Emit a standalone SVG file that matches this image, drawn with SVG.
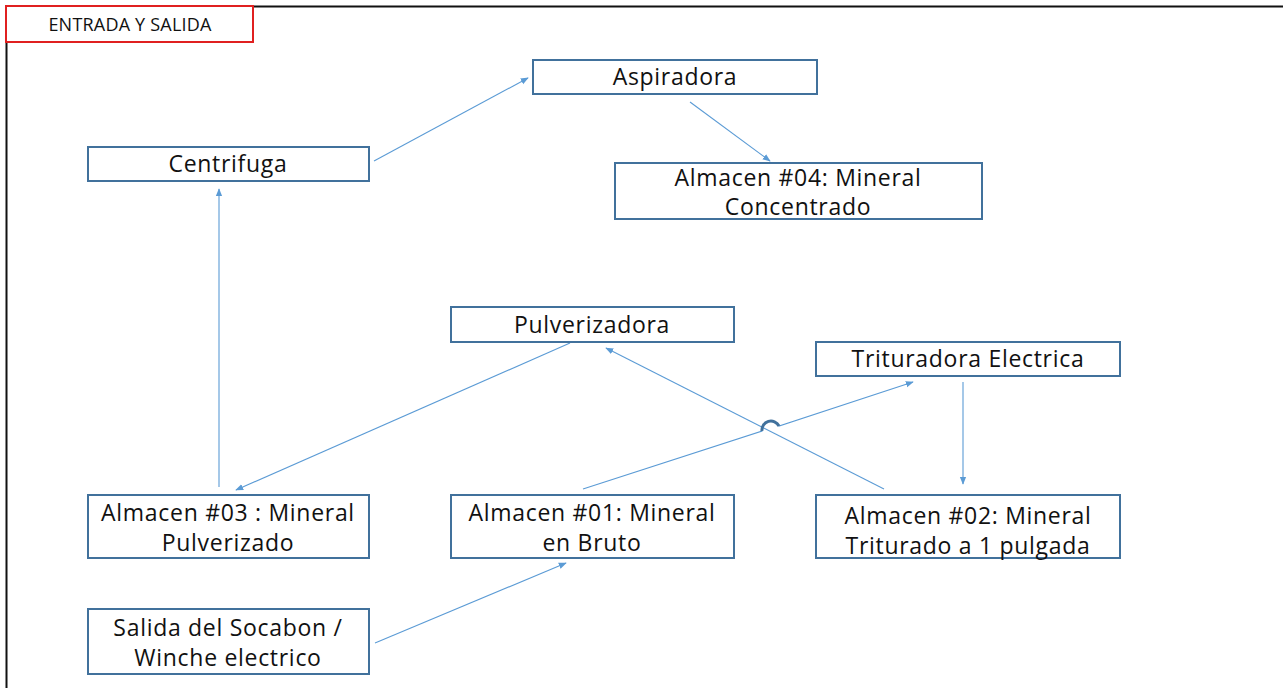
<svg xmlns="http://www.w3.org/2000/svg" width="1283" height="688" viewBox="0 0 1283 688">
  <style>
    .box { fill: #ffffff; stroke: #41719c; stroke-width: 2; }
    .lbl { font-family: "Open Sans", "Liberation Sans", sans-serif; font-size: 23px; letter-spacing: 0.7px; fill: #111111; text-anchor: middle; }
    .edge { fill: none; stroke: #5b9bd5; stroke-width: 1.1; marker-end: url(#arrow); }
  </style>
  <defs>
    <marker id="arrow" viewBox="0 0 10 10" refX="9" refY="5" markerWidth="8" markerHeight="8" markerUnits="userSpaceOnUse" orient="auto">
      <path d="M0,1 L10,5 L0,9 Z" fill="#5b9bd5"/>
    </marker>
  </defs>
  <rect width="1283" height="688" fill="#ffffff"/>

  <!-- page frame and title tab -->
  <g id="frame">
    <line x1="253" y1="6.5" x2="1283" y2="6.5" stroke="#111111" stroke-width="2"/>
    <line x1="6.5" y1="42" x2="6.5" y2="688" stroke="#111111" stroke-width="2"/>
    <rect x="6" y="6" width="247" height="36" fill="#ffffff" stroke="#e02020" stroke-width="2"/>
    <text x="130" y="31" style="font-family: 'Open Sans', 'Liberation Sans', sans-serif; font-size: 18px; letter-spacing: 0.2px; fill: #111111; text-anchor: middle;">ENTRADA Y SALIDA</text>
  </g>

  <!-- connectors -->
  <g id="connectors">
    <path class="edge" d="M374,161 L528,78"/>
    <path class="edge" d="M690,102 L770,161"/>
    <path class="edge" d="M219,487 L219,189"/>
    <path class="edge" d="M570,343 L236,490"/>
    <path class="edge" d="M884,489 L606,348"/>
    <path class="edge" d="M583,489 L762,431 A9,9 0 0 1 779,426 L913,382"/>
    <path class="edge" d="M963,382 L963,484"/>
    <path class="edge" d="M375,643 L566,563"/>
    <path d="M762,431 A9,9 0 0 1 779,426" fill="none" stroke="#41719c" stroke-width="3"/>
  </g>

  <g id="aspiradora">
    <rect class="box" x="533" y="60" width="284" height="34"/>
    <text class="lbl" x="675" y="85">Aspiradora</text>
  </g>
  <g id="centrifuga">
    <rect class="box" x="88" y="147" width="281" height="34"/>
    <text class="lbl" x="228" y="172">Centrifuga</text>
  </g>
  <g id="almacen04">
    <rect class="box" x="615" y="163" width="367" height="56"/>
    <text class="lbl" x="798" y="186">Almacen #04: Mineral</text>
    <text class="lbl" x="798" y="215">Concentrado</text>
  </g>
  <g id="pulverizadora">
    <rect class="box" x="451" y="307" width="283" height="35"/>
    <text class="lbl" x="592" y="333">Pulverizadora</text>
  </g>
  <g id="trituradora">
    <rect class="box" x="816" y="342" width="304" height="34"/>
    <text class="lbl" x="968" y="367">Trituradora Electrica</text>
  </g>
  <g id="almacen03">
    <rect class="box" x="88" y="495" width="281" height="63"/>
    <text class="lbl" x="228" y="521">Almacen #03 : Mineral</text>
    <text class="lbl" x="228" y="551">Pulverizado</text>
  </g>
  <g id="almacen01">
    <rect class="box" x="451" y="495" width="283" height="63"/>
    <text class="lbl" x="592" y="521">Almacen #01: Mineral</text>
    <text class="lbl" x="592" y="551">en Bruto</text>
  </g>
  <g id="almacen02">
    <rect class="box" x="816" y="495" width="304" height="63"/>
    <text class="lbl" x="968" y="524">Almacen #02: Mineral</text>
    <text class="lbl" x="968" y="554">Triturado a 1 pulgada</text>
  </g>
  <g id="salida">
    <rect class="box" x="88" y="609" width="281" height="65"/>
    <text class="lbl" x="228" y="636">Salida del Socabon /</text>
    <text class="lbl" x="228" y="666">Winche electrico</text>
  </g>
</svg>
